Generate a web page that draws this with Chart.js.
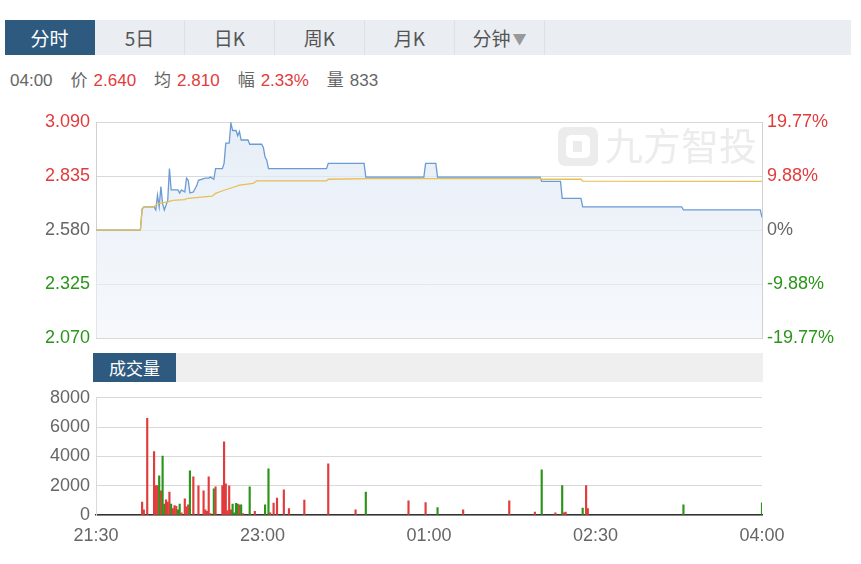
<!DOCTYPE html>
<html>
<head>
<meta charset="utf-8">
<script src="https://cdn.jsdelivr.net/npm/chart.js@4.4.0/dist/chart.umd.min.js"></script>
<style>
  body { margin: 0; background: #fff; font-family: "Liberation Sans", "Noto Sans CJK SC", sans-serif; }
  #wrap { position: relative; width: 861px; height: 564px; overflow: hidden; }
  .tabs { position: absolute; left: 5px; top: 20px; width: 846px; height: 35px; background: #eaedf2; display: flex; }
  .tab { width: 89px; height: 35px; line-height: 35px; text-align: center; font-size: 19px; color: #555;
         border-right: 1px solid #dde1e7; font-family: "Noto Sans CJK SC", "Liberation Sans", sans-serif; }
  .tab.on { background: #2f5a80; color: #fff; border-right-color: #2f5a80; }
  .tab .tri { font-size: 14px; color: #999; margin-left: 2px; vertical-align: 2px; }
  .info { position: absolute; left: 10px; top: 66px; font-size: 17px; color: #666; white-space: nowrap;
          font-family: "Liberation Sans", "Noto Sans CJK SC", sans-serif; }
  .info > span { margin-right: 18px; }
  .info .r { color: #e23b3b; margin-left: 6px; }
  .volbar { position: absolute; left: 93px; top: 353px; width: 670px; height: 29px; background: #efefef; }
  .volbar div { width: 83px; height: 29px; line-height: 29px; background: #2f5a80; color: #fff; text-align: center;
                font-size: 17px; font-family: "Noto Sans CJK SC", sans-serif; }
  #priceBox { position: absolute; left: 0; top: 100px; width: 861px; height: 255px; }
  #volBox { position: absolute; left: 0; top: 381px; width: 861px; height: 183px; }
</style>
</head>
<body>
<div id="wrap">
  <div class="tabs">
    <div class="tab on">分时</div>
    <div class="tab">5日</div>
    <div class="tab">日K</div>
    <div class="tab">周K</div>
    <div class="tab">月K</div>
    <div class="tab">分钟<span class="tri">▼</span></div>
  </div>
  <div class="info">
    <span>04:00</span><span>价<span class="r">2.640</span></span><span>均<span class="r">2.810</span></span><span>幅<span class="r">2.33%</span></span><span>量<span style="margin-left:6px">833</span></span>
  </div>
  <div id="priceBox"><canvas id="price" width="861" height="255"></canvas></div>
  <div class="volbar"><div>成交量</div></div>
  <div id="volBox"><canvas id="vol" width="861" height="183"></canvas></div>
</div>
<script>
// minute index from 21:30 (0) to 04:00 (390)
const timeLabels = ["21:30", "23:00", "01:00", "02:30", "04:00"];
const timeTickPos = [0, 97.5, 195, 292.5, 390];

const priceTicks = [2.070, 2.325, 2.580, 2.835, 3.090];
const pctTicks = [-19.77, -9.88, 0, 9.88, 19.77];
const pctLabels = ["-19.77%", "-9.88%", "0%", "9.88%", "19.77%"];
const basePrice = 2.58;

const priceMin = [0, 26, 27, 28, 34, 35, 36, 37, 38, 39, 40, 42, 43, 44, 48, 49, 50, 52, 53, 54, 55, 57, 59, 60,
  64, 66, 67, 69, 70, 74, 75, 76, 78, 79, 80, 82, 83, 84, 85, 89, 90, 97, 98, 99, 100, 101, 135, 136, 157, 158,
  192, 193, 199, 200, 260, 261, 272, 273, 284, 285, 343, 344, 389, 390];
const priceVal = [2.58, 2.58, 2.68, 2.69, 2.69, 2.675, 2.745, 2.69, 2.785, 2.705, 2.675, 2.72, 2.87, 2.77, 2.77,
  2.755, 2.77, 2.76, 2.825, 2.815, 2.755, 2.76, 2.79, 2.815, 2.825, 2.825, 2.83, 2.82, 2.87, 2.87, 2.895, 2.99,
  2.99, 3.085, 3.05, 3.05, 3.025, 3.045, 3.005, 3.005, 2.985, 2.985, 2.97, 2.925, 2.91, 2.87, 2.87, 2.895, 2.895,
  2.83, 2.83, 2.895, 2.895, 2.83, 2.83, 2.81, 2.81, 2.73, 2.73, 2.69, 2.69, 2.675, 2.675, 2.64];

const avgMin = [0, 26, 27, 28, 34, 36, 42, 45, 52, 53, 60, 68, 70, 75, 80, 84, 92, 94, 135, 136, 160, 260, 261,
  284, 285, 390];
const avgVal = [2.58, 2.58, 2.675, 2.69, 2.69, 2.705, 2.713, 2.72, 2.724, 2.729, 2.734, 2.74, 2.753, 2.768, 2.781,
  2.792, 2.80, 2.812, 2.812, 2.82, 2.823, 2.823, 2.82, 2.82, 2.811, 2.81];

const volMin = [27, 28, 30, 34, 35, 36, 37, 38, 39, 40, 41, 42, 43, 44, 45, 46, 47, 48, 49, 50, 52, 53, 54, 55, 57,
  60, 63, 64, 65, 66, 67, 69, 70, 74, 75, 76, 77, 78, 79, 80, 81, 82, 83, 84, 85, 86, 90, 93, 99, 101, 102, 104,
  106, 110, 113, 122, 136, 152, 158, 183, 193, 200, 215, 242, 257, 261, 269, 273, 274, 275, 285, 287, 288, 344, 390];
const volVal = [890, 360, 6600, 4330, 2000, 2000, 2670, 1650, 4030, 750, 1040, 880, 1560, 750, 430, 650, 600, 360,
  750, 140, 1110, 560, 700, 3010, 2600, 1990, 1650, 360, 250, 2600, 100, 1790, 1920, 2000, 5000, 2130, 300, 1990,
  360, 750, 150, 800, 750, 700, 700, 100, 1920, 250, 700, 3150, 140, 815, 1150, 1720, 430, 1020, 3490, 360, 1560,
  970, 840, 500, 360, 970, 200, 3080, 140, 2010, 140, 200, 480, 2010, 430, 700, 833];
// 1 = up (red), -1 = down (green)
const volDir = [1, 1, 1, 1, 1, 1, -1, 1, -1, -1, 1, 1, 1, -1, 1, 1, 1, -1, -1, 1, 1, 1, 1, -1, 1,
  1, 1, 1, 1, 1, 1, -1, 1, 1, 1, 1, 1, 1, 1, -1, -1, -1, -1, 1, -1, 1, -1, 1, -1, -1, 1, 1,
  1, 1, 1, 1, 1, 1, -1, 1, 1, -1, 1, 1, 1, -1, 1, -1, 1, 1, -1, 1, 1, -1, -1];

const RED = "#e23b3b";
const GREEN = "#2a9519";
const GRAY = "#666";
const FONT = "'Liberation Sans', 'Noto Sans CJK SC', sans-serif";

Chart.defaults.font.family = FONT;
Chart.defaults.animation = false;

const watermark = {
  id: "watermark",
  beforeDatasetsDraw(chart) {
    const { ctx, chartArea } = chart;
    const x = chartArea.right - 204, y = chartArea.top + 5;
    ctx.save();
    ctx.fillStyle = "#ececec";
    ctx.beginPath();
    ctx.roundRect(x, y, 40, 39, 7);
    ctx.fill();
    ctx.fillStyle = "#fff";
    ctx.beginPath();
    ctx.roundRect(x + 8, y + 8, 24, 23, 5);
    ctx.fill();
    ctx.fillStyle = "#ececec";
    ctx.fillRect(x + 15, y + 14, 9, 11);
    ctx.font = "38px 'Noto Sans CJK SC'";
    ctx.textBaseline = "middle";
    ctx.fillText("九方智投", x + 47, y + 19);
    ctx.restore();
  }
};

function tickColor(v, mid) {
  if (Math.abs(v - mid) < 1e-6) return GRAY;
  return v > mid ? RED : GREEN;
}

new Chart(document.getElementById("price"), {
  type: "line",
  data: {
    datasets: [
      {
        data: avgMin.map((m, i) => ({ x: m, y: avgVal[i] })),
        borderColor: "#e8bf52",
        borderWidth: 1.3,
        pointRadius: 0,
        fill: false,
        yAxisID: "y"
      },
      {
        data: priceMin.map((m, i) => ({ x: m, y: priceVal[i] })),
        borderColor: "#6b9bd3",
        borderWidth: 1.3,
        pointRadius: 0,
        fill: "start",
        backgroundColor: (c) => {
          const area = c.chart.chartArea;
          if (!area) return "rgba(230,237,246,0.6)";
          const g = c.chart.ctx.createLinearGradient(0, area.top, 0, area.bottom);
          g.addColorStop(0, "rgba(222,232,244,0.75)");
          g.addColorStop(1, "rgba(240,244,250,0.6)");
          return g;
        },
        yAxisID: "y"
      }
    ]
  },
  options: {
    responsive: false,
    layout: { padding: { top: 22, bottom: 0, left: 0, right: 0 } },
    plugins: { legend: { display: false }, tooltip: { enabled: false } },
    scales: {
      x: { type: "linear", min: 0, max: 390, display: false },
      y: {
        position: "left",
        min: 2.07, max: 3.09,
        afterBuildTicks: (s) => { s.ticks = priceTicks.map(v => ({ value: v })); },
        afterFit: (s) => { s.width = 96; },
        grid: { color: "#d9d9d9", drawTicks: false },
        border: { color: "#d0d0d0" },
        ticks: {
          padding: 6,
          font: { size: 18 },
          color: (c) => tickColor(c.tick.value, basePrice),
          callback: (v) => v.toFixed(3)
        }
      },
      y2: {
        position: "right",
        min: -19.77, max: 19.77,
        afterBuildTicks: (s) => { s.ticks = pctTicks.map(v => ({ value: v })); },
        afterFit: (s) => { s.width = 99; },
        grid: { display: false, drawTicks: false },
        border: { color: "#d0d0d0" },
        ticks: {
          padding: 5,
          font: { size: 18 },
          color: (c) => tickColor(c.tick.value, 0),
          callback: (v, i) => pctLabels[i]
        }
      }
    }
  },
  plugins: [watermark]
});

new Chart(document.getElementById("vol"), {
  type: "bar",
  data: {
    datasets: [{
      data: volMin.map((m, i) => ({ x: m, y: volVal[i] })),
      backgroundColor: volDir.map(d => d > 0 ? RED : GREEN),
      barThickness: 1.5
    }]
  },
  options: {
    responsive: false,
    layout: { padding: { top: 13, bottom: 9, left: 0, right: 99 } },
    plugins: { legend: { display: false }, tooltip: { enabled: false } },
    scales: {
      x: {
        type: "linear", min: 0, max: 390, offset: false,
        afterBuildTicks: (s) => { s.ticks = timeTickPos.map(v => ({ value: v })); },
        afterFit: (s) => { s.height = 40; },
        grid: { display: false, drawTicks: false },
        border: { color: "#333", width: 1.5 },
        ticks: {
          padding: 10,
          maxRotation: 0,
          font: { size: 18 },
          color: GRAY,
          callback: (v, i) => timeLabels[i]
        }
      },
      y: {
        min: 0, max: 8000,
        afterFit: (s) => { s.width = 96; },
        grid: { color: "#d9d9d9", drawTicks: false },
        border: { color: "#d9d9d9" },
        ticks: { stepSize: 2000, padding: 6, font: { size: 18 }, color: GRAY, callback: (v) => String(v) }
      }
    }
  }
});
</script>
</body>
</html>
